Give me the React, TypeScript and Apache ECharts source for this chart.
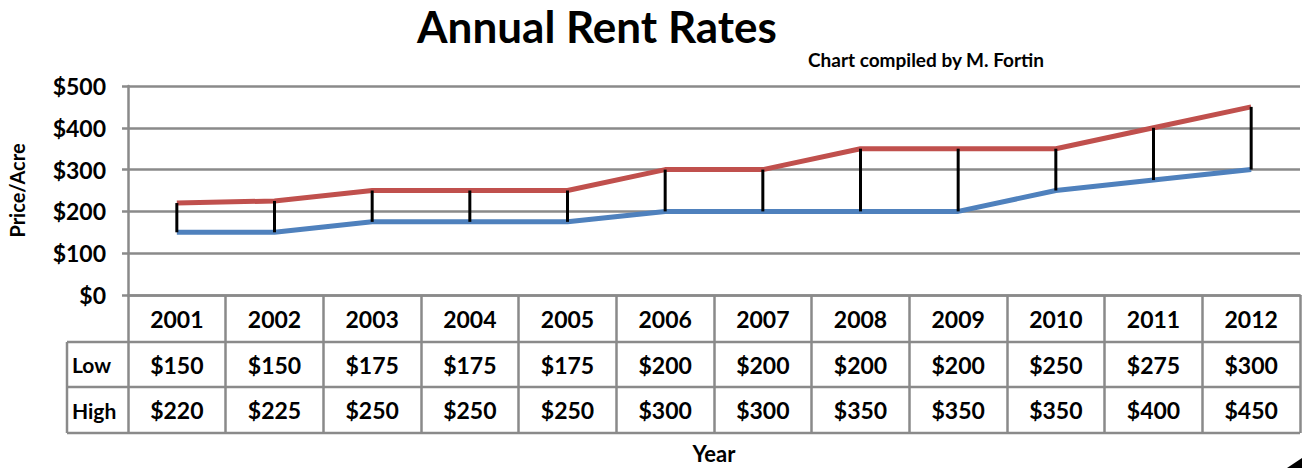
import React, { useEffect, useRef } from "react";
import * as echarts from "echarts";

const years = ["2001", "2002", "2003", "2004", "2005", "2006", "2007", "2008", "2009", "2010", "2011", "2012"];
const lowValues = [150, 150, 175, 175, 175, 200, 200, 200, 200, 250, 275, 300];
const highValues = [220, 225, 250, 250, 250, 300, 300, 350, 350, 350, 400, 450];
const yTicks = [0, 100, 200, 300, 400, 500];
const rowNames = ["Low", "High"];

const FONT = "Lato";
const GRAY = "#8a8a8a";

export default function App() {
  const ref = useRef<HTMLDivElement>(null);
  useEffect(() => {
    const chart = echarts.init(ref.current!, undefined, { renderer: "svg" });
    const gridTop = 86;
    const gridBottomY = 295;
    const gridLeft = 128;
    const gridRight = 2;
    const rowY = [295, 342, 387, 433];
    chart.setOption({
      animation: false,
      backgroundColor: "#ffffff",
      title: [
        {
          text: "Annual Rent Rates",
          left: 597,
          top: 4,
          padding: 0,
          textAlign: "center",
          textStyle: { fontFamily: FONT, fontWeight: "bold", fontSize: 44, lineHeight: 44, color: "#000" },
        },
        {
          text: "Chart compiled by M. Fortin",
          left: 921,
          top: 45,
          textAlign: "center",
          textStyle: { fontFamily: FONT, fontWeight: "bold", fontSize: 19, color: "#000" },
        },
      ],
      grid: {
        left: gridLeft,
        right: gridRight,
        top: gridTop,
        bottom: 468 - gridBottomY,
        containLabel: false,
        outerBoundsMode: "none",
      },
      xAxis: {
        type: "category",
        data: years,
        boundaryGap: true,
        axisLine: { show: true, lineStyle: { color: GRAY, width: 2.5 } },
        axisTick: { show: true, alignWithLabel: false, length: rowY[3] - rowY[0], lineStyle: { color: GRAY, width: 2.5 } },
        axisLabel: { fontFamily: FONT, fontWeight: "bold", fontSize: 23, color: "#000", margin: 12, lineHeight: 23 },
        name: "Year",
        nameLocation: "middle",
        nameGap: 147,
        nameTextStyle: { fontFamily: FONT, fontWeight: "bold", fontSize: 22, color: "#000" },
      },
      yAxis: {
        type: "value",
        min: yTicks[0],
        max: yTicks[yTicks.length - 1],
        interval: 100,
        axisLine: { show: true, lineStyle: { color: GRAY, width: 2.5 } },
        axisTick: { show: true, length: 6, lineStyle: { color: GRAY, width: 2.5 } },
        splitLine: { show: true, lineStyle: { color: GRAY, width: 2.5 } },
        axisLabel: {
          fontFamily: FONT,
          fontWeight: "bold",
          fontSize: 23,
          color: "#000",
          margin: 22,
          formatter: (v: number) => "$" + v,
        },
        name: "Price/Acre",
        nameLocation: "middle",
        nameGap: 101,
        nameRotate: 90,
        nameTextStyle: { fontFamily: FONT, fontWeight: "bold", fontSize: 20, color: "#000" },
      },
      series: [
        {
          name: "High",
          type: "line",
          data: highValues,
          symbol: "none",
          lineStyle: { color: "#C0504D", width: 5 },
          z: 2,
        },
        {
          name: "Low",
          type: "line",
          data: lowValues,
          symbol: "none",
          lineStyle: { color: "#4F81BD", width: 5 },
          z: 2,
        },
        {
          name: "HighLow",
          type: "custom",
          z: 5,
          data: years.map((_, i) => [i, lowValues[i], highValues[i]]),
          encode: { x: 0, y: [1, 2] },
          renderItem: (params: any, api: any) => {
            const a = api.coord([api.value(0), api.value(1)]);
            const b = api.coord([api.value(0), api.value(2)]);
            return {
              type: "line",
              shape: { x1: a[0], y1: a[1], x2: b[0], y2: b[1] },
              style: { stroke: "#000", lineWidth: 3 },
            };
          },
        },
      ],
    });

    const tableLeft = 67;
    const tableRight = 1302 - gridRight;
    const graphics: any[] = [];
    [rowY[1], rowY[2], rowY[3]].forEach((y) => {
      graphics.push({
        type: "line",
        shape: { x1: tableLeft, y1: y, x2: tableRight, y2: y },
        style: { stroke: GRAY, lineWidth: 2.5 },
      });
    });
    graphics.push({
      type: "line",
      shape: { x1: tableLeft, y1: rowY[1], x2: tableLeft, y2: rowY[3] },
      style: { stroke: GRAY, lineWidth: 2.5 },
    });
    const rows = [lowValues, highValues];
    rows.forEach((vals, r) => {
      const cy = (rowY[r + 1] + rowY[r + 2]) / 2;
      graphics.push({
        type: "text",
        x: tableLeft + 5,
        y: cy,
        style: {
          text: rowNames[r],
          fontFamily: FONT,
          fontWeight: "bold",
          fontSize: 21,
          fill: "#000",
          verticalAlign: "middle",
          align: "left",
        },
      });
      vals.forEach((v, i) => {
        const px = chart.convertToPixel({ xAxisIndex: 0 }, i) as number;
        graphics.push({
          type: "text",
          x: px,
          y: cy,
          style: {
            text: "$" + v,
            fontFamily: FONT,
            fontWeight: "bold",
            fontSize: 23,
            fill: "#000",
            verticalAlign: "middle",
            align: "center",
          },
        });
      });
    });
    graphics.push({
      type: "polygon",
      shape: { points: [[1302, 458], [1302, 468], [1287, 468]] },
      style: { fill: "#000" },
    });
    chart.setOption({ graphic: graphics });

    return () => chart.dispose();
  }, []);
  return (
    <div
      ref={ref}
      style={{ position: "absolute", left: 0, top: 0, width: 1302, height: 468 }}
    />
  );
}
